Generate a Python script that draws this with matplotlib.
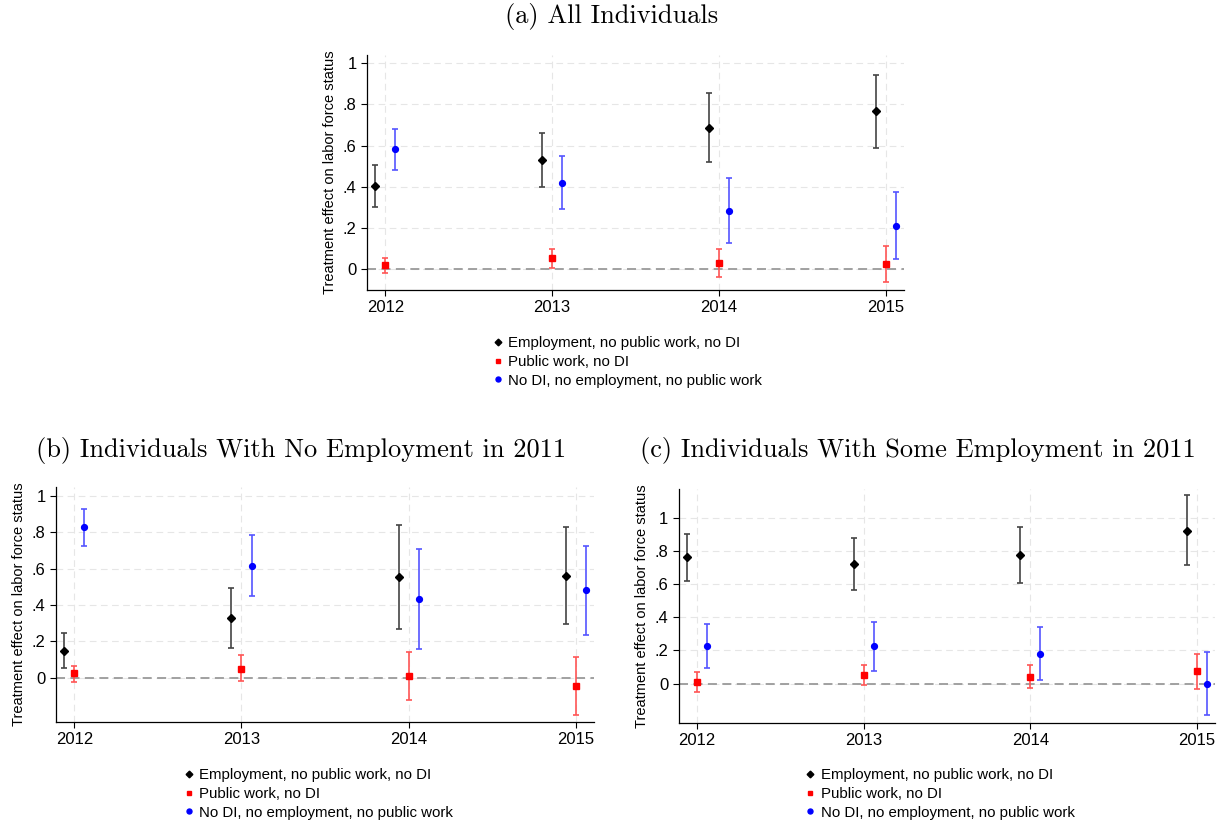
import numpy as np
import matplotlib
matplotlib.use("Agg")
import matplotlib.pyplot as plt
from matplotlib.lines import Line2D

plt.rcParams['font.family'] = ['Liberation Sans', 'DejaVu Sans']

years = [2012, 2013, 2014, 2015]
series_names = ["Employment, no public work, no DI",
                "Public work, no DI",
                "No DI, no employment, no public work"]

# (a) all individuals: point estimate, lower and upper bound of the CI
a_emp = [0.404, 0.528, 0.686, 0.767]
a_emp_lo = [0.303, 0.399, 0.522, 0.587]
a_emp_hi = [0.504, 0.661, 0.854, 0.945]
a_pub = [0.019, 0.052, 0.029, 0.023]
a_pub_lo = [-0.019, 0.006, -0.037, -0.063]
a_pub_hi = [0.052, 0.099, 0.096, 0.110]
a_nodi = [0.582, 0.420, 0.284, 0.211]
a_nodi_lo = [0.481, 0.290, 0.128, 0.049]
a_nodi_hi = [0.682, 0.548, 0.441, 0.373]

# (b) no employment in 2011
b_emp = [0.149, 0.328, 0.554, 0.561]
b_emp_lo = [0.053, 0.163, 0.270, 0.295]
b_emp_hi = [0.244, 0.494, 0.840, 0.829]
b_pub = [0.024, 0.050, 0.011, -0.044]
b_pub_lo = [-0.026, -0.018, -0.123, -0.204]
b_pub_hi = [0.064, 0.123, 0.143, 0.114]
b_nodi = [0.829, 0.618, 0.435, 0.481]
b_nodi_lo = [0.727, 0.448, 0.160, 0.237]
b_nodi_hi = [0.930, 0.787, 0.708, 0.723]

# (c) some employment in 2011
c_emp = [0.762, 0.722, 0.774, 0.923]
c_emp_lo = [0.621, 0.563, 0.605, 0.714]
c_emp_hi = [0.905, 0.879, 0.944, 1.135]
c_pub = [0.010, 0.050, 0.040, 0.075]
c_pub_lo = [-0.050, -0.006, -0.028, -0.032]
c_pub_hi = [0.069, 0.111, 0.111, 0.181]
c_nodi = [0.228, 0.226, 0.181, 0.000]
c_nodi_lo = [0.097, 0.079, 0.022, -0.190]
c_nodi_hi = [0.357, 0.373, 0.339, 0.190]

yticks = [0, 0.2, 0.4, 0.6, 0.8, 1]
ytick_labels = ["0", ".2", ".4", ".6", ".8", "1"]

# marker, colour, error bar colour, marker size, x offset from the year
styles = [("D", "black", "#444444", 4.0, -0.06),
          ("s", "red", "#ff5555", 4.2, 0.0),
          ("o", "blue", "#5555ff", 4.2, 0.06)]


def draw_panel(ax, groups, ylim):
    ax.set_xlim(2011.89, 2015.11)
    ax.set_ylim(*ylim)
    for y in yticks:
        ax.axhline(y, color="#e6e6e6", lw=0.8, ls=(0, (6, 4)), zorder=0)
    for x in years:
        ax.axvline(x, color="#e6e6e6", lw=0.8, ls=(0, (6, 4)), zorder=0)
    ax.axhline(0, color="#9a9a9a", lw=1.3, ls=(0, (5, 3)), zorder=1)
    for (est, lo, hi), (mk, col, ecol, ms, off) in zip(groups, styles):
        x = np.array(years) + off
        est = np.array(est)
        err = [est - np.array(lo), np.array(hi) - est]
        ax.errorbar(x, est, yerr=err, fmt="none", ecolor=ecol, elinewidth=1.2,
                    capsize=2.5, capthick=1.2, zorder=2)
        ax.plot(x, est, ls="none", marker=mk, color=col, ms=ms, zorder=3)
    ax.set_xticks(years)
    ax.set_xticklabels([str(y) for y in years])
    ax.set_yticks(yticks)
    ax.set_yticklabels(ytick_labels)
    ax.tick_params(labelsize=12, length=4, width=0.8, colors="black")
    for s in ["top", "right"]:
        ax.spines[s].set_visible(False)
    for s in ["left", "bottom"]:
        ax.spines[s].set_linewidth(0.9)
    ax.set_ylabel("Treatment effect on labor force status", fontsize=10.5, labelpad=4)


def draw_legend(fig, x, y):
    handles = [Line2D([], [], ls="none", marker=mk, color=col, ms=ms * 0.85)
               for mk, col, ecol, ms, off in styles]
    fig.legend(handles, series_names, loc="upper left", bbox_to_anchor=(x, y),
               frameon=False, fontsize=10.8, handlelength=0.6, handletextpad=0.4,
               labelspacing=0.32, borderaxespad=0)


fig = plt.figure(figsize=(12.25, 8.27), dpi=100)

ax_a = fig.add_axes([0.2996, 0.6498, 0.4384, 0.2837])
draw_panel(ax_a, [(a_emp, a_emp_lo, a_emp_hi), (a_pub, a_pub_lo, a_pub_hi),
                  (a_nodi, a_nodi_lo, a_nodi_hi)], (-0.1, 1.04))

ax_b = fig.add_axes([0.0457, 0.127, 0.4393, 0.284])
draw_panel(ax_b, [(b_emp, b_emp_lo, b_emp_hi), (b_pub, b_pub_lo, b_pub_hi),
                  (b_nodi, b_nodi_lo, b_nodi_hi)], (-0.244, 1.05))

ax_c = fig.add_axes([0.554, 0.126, 0.438, 0.283])
draw_panel(ax_c, [(c_emp, c_emp_lo, c_emp_hi), (c_pub, c_pub_lo, c_pub_hi),
                  (c_nodi, c_nodi_lo, c_nodi_hi)], (-0.236, 1.175))

title_kw = dict(fontfamily="cmr10", fontsize=19, ha="center", va="center")
fig.text(612 / 1225, 1 - 17 / 827, "(a) All Individuals", **title_kw)
fig.text(301 / 1225, 1 - 451 / 827, "(b) Individuals With No Employment in 2011", **title_kw)
fig.text(918 / 1225, 1 - 451 / 827, "(c) Individuals With Some Employment in 2011", **title_kw)

draw_legend(fig, 487 / 1225, 1 - 330 / 827)
draw_legend(fig, 178 / 1225, 1 - 762 / 827)
draw_legend(fig, 800 / 1225, 1 - 762 / 827)

fig.savefig("out.png", dpi=100)
